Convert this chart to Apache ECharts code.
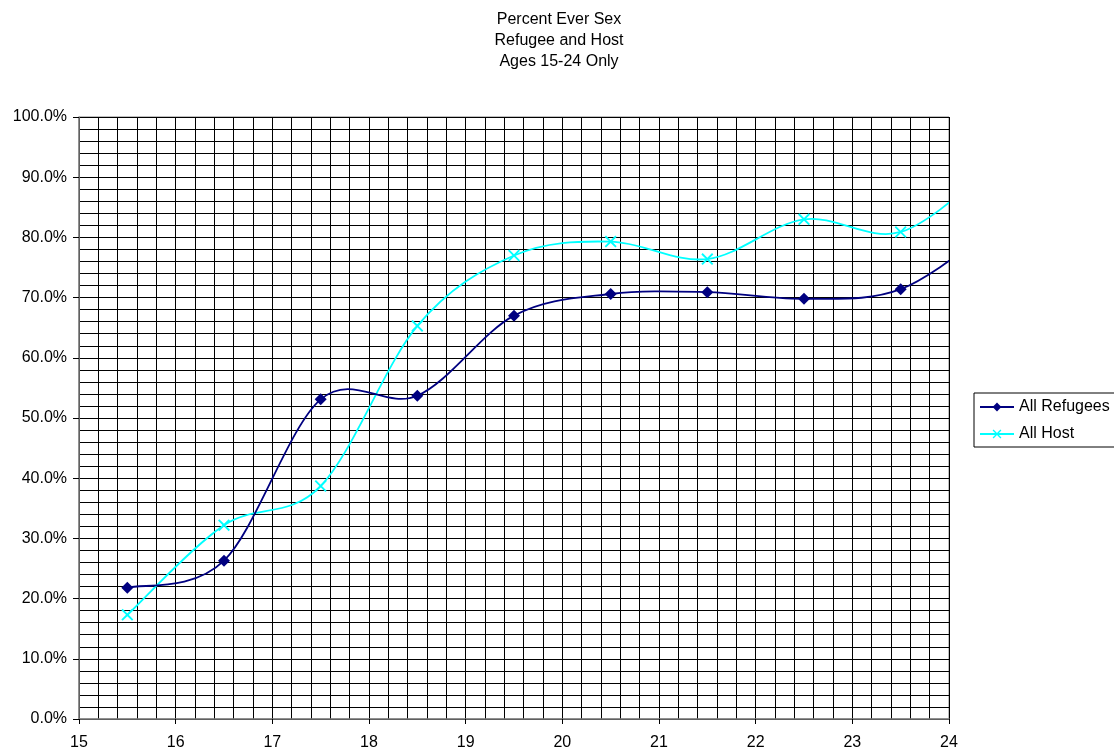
<!DOCTYPE html>
<html>
<head>
<meta charset="utf-8">
<title>Percent Ever Sex</title>
<script src="https://cdn.jsdelivr.net/npm/echarts@6/dist/echarts.min.js"></script>
<style>
  html, body { margin: 0; padding: 0; background: #fff; }
  #chart { width: 1114px; height: 751px; }
</style>
</head>
<body>
<div id="chart"></div>
<script>
// Each age group is plotted at the middle of its year (age + 0.5).
const ageMid = [15.5, 16.5, 17.5, 18.5, 19.5, 20.5, 21.5, 22.5, 23.5, 24.5];
const allRefugees = [21.8, 26.3, 53.1, 53.7, 67.0, 70.6, 70.9, 69.8, 71.4, 82.0];
const allHost = [17.3, 32.2, 38.7, 65.3, 77.0, 79.3, 76.4, 83.0, 80.9, 92.5];
const titleLines = ['Percent Ever Sex', 'Refugee and Host', 'Ages 15-24 Only'];
const seriesNames = ['All Refugees', 'All Host'];
const seriesColors = ['#000080', '#00ffff'];

const FONT = '"Liberation Sans", Arial, sans-serif';
const crossSymbol = 'path://M0,1.1L1.1,0L5,3.9L8.9,0L10,1.1L6.1,5L10,8.9L8.9,10L5,6.1L1.1,10L0,8.9L3.9,5Z';

const pairs = (xs, ys) => xs.map((x, i) => [x, ys[i]]);

// Smoothed curve: one cubic Bezier per segment, with tangents taken from the
// neighbouring points ((next - prev) / 6), computed in pixel space.
function curveRenderer(ys, color) {
  return function (params, api) {
    const i = params.dataIndex;
    const n = ageMid.length;
    if (i >= n - 1) return null;
    const pt = k => {
      const j = Math.max(0, Math.min(n - 1, k));
      return api.coord([ageMid[j], ys[j]]);
    };
    const p0 = pt(i - 1), p1 = pt(i), p2 = pt(i + 1), p3 = pt(i + 2);
    return {
      type: 'bezierCurve',
      shape: {
        x1: p1[0], y1: p1[1],
        cpx1: p1[0] + (p2[0] - p0[0]) / 6,
        cpy1: p1[1] + (p2[1] - p0[1]) / 6,
        cpx2: p2[0] - (p3[0] - p1[0]) / 6,
        cpy2: p2[1] - (p3[1] - p1[1]) / 6,
        x2: p2[0], y2: p2[1]
      },
      style: { stroke: color, lineWidth: 1.8, fill: 'none' },
      silent: true
    };
  };
}

const chart = echarts.init(document.getElementById('chart'), null, { renderer: 'canvas' });
chart.setOption({
  backgroundColor: '#ffffff',
  animation: false,
  textStyle: { fontFamily: FONT },
  title: {
    text: titleLines.join('\n'),
    left: 554,
    textAlign: 'center',
    top: 4,
    textStyle: { fontFamily: FONT, fontSize: 16, fontWeight: 'normal', color: '#000', lineHeight: 21 }
  },
  legend: {
    orient: 'vertical',
    left: 974,
    top: 393,
    padding: [6, 6, 5, 5],
    itemGap: 11,
    itemWidth: 34,
    itemHeight: 11,
    borderColor: '#000',
    borderWidth: 1,
    textStyle: { fontFamily: FONT, fontSize: 16, color: '#000' },
    data: seriesNames.map((name, k) => ({
      name: name,
      lineStyle: { width: 2, color: seriesColors[k] }
    }))
  },
  grid: {
    left: 79, right: 165, top: 117, bottom: 32,
    show: true, borderColor: '#808080', borderWidth: 1, backgroundColor: '#fff'
  },
  xAxis: {
    type: 'value',
    min: 15, max: 24, interval: 1,
    axisLine: { show: true, lineStyle: { color: '#808080', width: 1.5 } },
    axisTick: { show: true, length: 5, lineStyle: { color: '#000' } },
    minorTick: { show: false, splitNumber: 5 },
    splitLine: { show: true, lineStyle: { color: '#000', width: 1 } },
    minorSplitLine: { show: true, lineStyle: { color: '#000', width: 1 } },
    axisLabel: { fontFamily: FONT, fontSize: 16, color: '#000', margin: 16 }
  },
  yAxis: {
    type: 'value',
    min: 0, max: 100, interval: 10,
    axisLine: { show: true, lineStyle: { color: '#808080', width: 1.5 } },
    axisTick: { show: true, length: 6, lineStyle: { color: '#000' } },
    minorTick: { show: false, splitNumber: 5 },
    splitLine: { show: true, lineStyle: { color: '#000', width: 1 } },
    minorSplitLine: { show: true, lineStyle: { color: '#000', width: 1 } },
    axisLabel: {
      fontFamily: FONT, fontSize: 16, color: '#000', margin: 12,
      formatter: v => v.toFixed(1) + '%'
    }
  },
  series: [
    {
      name: seriesNames[1] + ' curve',
      type: 'custom',
      data: pairs(ageMid, allHost),
      encode: { x: 0, y: 1 },
      renderItem: curveRenderer(allHost, seriesColors[1]),
      clip: true,
      z: 2
    },
    {
      name: seriesNames[0] + ' curve',
      type: 'custom',
      data: pairs(ageMid, allRefugees),
      encode: { x: 0, y: 1 },
      renderItem: curveRenderer(allRefugees, seriesColors[0]),
      clip: true,
      z: 3
    },
    {
      name: seriesNames[0],
      type: 'line',
      data: pairs(ageMid, allRefugees),
      symbol: 'diamond',
      symbolSize: 12,
      showAllSymbol: true,
      lineStyle: { color: seriesColors[0], width: 0 },
      itemStyle: { color: seriesColors[0] },
      clip: true,
      z: 5
    },
    {
      name: seriesNames[1],
      type: 'line',
      data: pairs(ageMid, allHost),
      symbol: crossSymbol,
      symbolSize: 12,
      showAllSymbol: true,
      lineStyle: { color: seriesColors[1], width: 0 },
      itemStyle: { color: seriesColors[1] },
      clip: true,
      z: 4
    }
  ]
});
</script>
</body>
</html>
